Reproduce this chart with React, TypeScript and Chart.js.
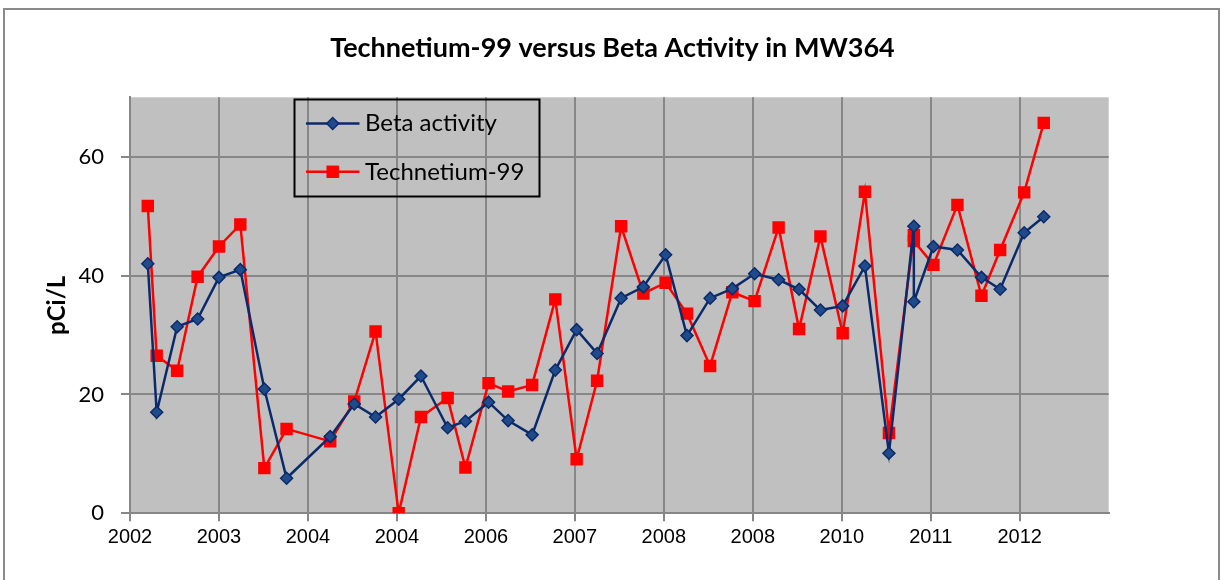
import React, { useEffect, useRef } from 'react';
import { Chart, registerables } from 'chart.js';

Chart.register(...registerables);

const chartTitle = 'Technetium-99 versus Beta Activity in MW364';
const yAxisTitle = 'pCi/L';
const seriesNames = ['Beta activity', 'Technetium-99'];
const xTickLabels = ['2002', '2003', '2004', '2004', '2006', '2007', '2008', '2008', '2010', '2011', '2012'];
const yTickValues = [0, 20, 40, 60];

// sample times, in units of the axis' major ticks (0 = first "2002" tick)
const sampleTimes = [
  0.2, 0.3, 0.53, 0.76, 1.0, 1.24, 1.51, 1.76, 2.25, 2.52,
  2.76, 3.02, 3.27, 3.57, 3.77, 4.03, 4.25, 4.52, 4.78, 5.02,
  5.25, 5.52, 5.77, 6.02, 6.26, 6.52, 6.77, 7.02, 7.29, 7.52,
  7.76, 8.01, 8.26, 8.53, 8.81, 8.81, 9.03, 9.3, 9.57, 9.78,
  10.05, 10.27,
];

const betaActivity = [
  42.0, 17.0, 31.4, 32.7, 39.7, 41.0, 20.9, 5.9, 12.9, 18.4,
  16.2, 19.2, 23.1, 14.4, 15.5, 18.7, 15.6, 13.2, 24.1, 30.9,
  26.9, 36.2, 38.1, 43.5, 29.9, 36.2, 37.8, 40.3, 39.3, 37.7,
  34.2, 34.9, 41.6, 10.1, 48.3, 35.6, 44.9, 44.3, 39.7, 37.7,
  47.2, 49.9,
];

const technetium99 = [
  51.7, 26.5, 24.0, 39.8, 44.9, 48.6, 7.6, 14.2, 12.1, 18.8,
  30.6, 0, 16.2, 19.4, 7.7, 21.9, 20.5, 21.6, 36.0, 9.1,
  22.3, 48.3, 37.0, 38.8, 33.6, 24.8, 37.2, 35.7, 48.1, 31.0,
  46.6, 30.3, 54.1, 13.5, 46.8, 45.8, 41.8, 51.9, 36.6, 44.3,
  54.0, 65.7,
];

const W = 1225;
const H = 580;
const GRID = '#878787';

const plotBackground = {
  id: 'plotBackground',
  beforeDraw(chart: any) {
    const { ctx, chartArea } = chart;
    ctx.save();
    ctx.fillStyle = '#c0c0c0';
    ctx.fillRect(chartArea.left, chartArea.top, chartArea.right - chartArea.left, chartArea.bottom - chartArea.top);
    ctx.restore();
  },
};

const titlePlugin = {
  id: 'excelTitle',
  afterDraw(chart: any) {
    const { ctx } = chart;
    ctx.save();
    ctx.font = 'bold 27px Lato';
    ctx.fillStyle = '#000';
    ctx.textAlign = 'center';
    ctx.textBaseline = 'middle';
    ctx.fillText(chartTitle, W / 2, 48);
    ctx.restore();
  },
};

function drawMarker(ctx: CanvasRenderingContext2D, ds: any, x: number, y: number) {
  const r = ds.pointRadius;
  ctx.beginPath();
  if (ds.pointStyle === 'rectRot') {
    ctx.moveTo(x - r, y);
    ctx.lineTo(x, y - r);
    ctx.lineTo(x + r, y);
    ctx.lineTo(x, y + r);
    ctx.closePath();
  } else {
    const s = Math.SQRT1_2 * r;
    ctx.rect(x - s, y - s, 2 * s, 2 * s);
  }
  ctx.fillStyle = ds.pointBackgroundColor;
  ctx.fill();
  if (ds.pointBorderWidth > 0) {
    ctx.lineWidth = ds.pointBorderWidth;
    ctx.strokeStyle = ds.pointBorderColor;
    ctx.stroke();
  }
}

const boxLegend = {
  id: 'boxLegend',
  afterDraw(chart: any) {
    const { ctx } = chart;
    ctx.save();
    ctx.strokeStyle = '#000';
    ctx.lineWidth = 2;
    ctx.strokeRect(294.5, 99.5, 245, 97);
    chart.data.datasets.forEach((ds: any, i: number) => {
      const cy = 123.5 + i * 48.3;
      ctx.strokeStyle = ds.borderColor;
      ctx.lineWidth = ds.borderWidth;
      ctx.beginPath();
      ctx.moveTo(306, cy);
      ctx.lineTo(359.5, cy);
      ctx.stroke();
      drawMarker(ctx, ds, 332.7, cy);
      ctx.fillStyle = '#000';
      ctx.font = '24px Lato';
      ctx.textAlign = 'left';
      ctx.textBaseline = 'middle';
      ctx.fillText(ds.label, 365, cy);
    });
    ctx.restore();
  },
};

export default function App() {
  const ref = useRef<HTMLCanvasElement | null>(null);

  useEffect(() => {
    if (!ref.current) return;
    const chart = new Chart(ref.current, {
      type: 'line',
      data: {
        datasets: [
          {
            label: seriesNames[0],
            data: sampleTimes.map((t, i) => ({ x: t, y: betaActivity[i] })),
            borderColor: '#0b2a6b',
            borderWidth: 2.5,
            pointStyle: 'rectRot',
            pointRadius: 6,
            pointHoverRadius: 6,
            pointBackgroundColor: '#1f4b8a',
            pointBorderColor: '#0b2a6b',
            pointBorderWidth: 1.5,
            tension: 0,
          },
          {
            label: seriesNames[1],
            data: sampleTimes.map((t, i) => ({ x: t, y: technetium99[i] })),
            borderColor: '#ff0000',
            borderWidth: 2.5,
            pointStyle: 'rect',
            pointRadius: 8.8,
            pointHoverRadius: 8.8,
            pointBackgroundColor: '#ff0000',
            pointBorderColor: '#ff0000',
            pointBorderWidth: 0,
            tension: 0,
          },
        ] as any,
      },
      options: {
        responsive: false,
        animation: false,
        layout: { padding: { left: 0, top: 97.3, right: W - 1108.7, bottom: H - 513.3 - 40 } },
        plugins: {
          legend: { display: false },
          title: { display: false },
          tooltip: { enabled: false },
        },
        scales: {
          x: {
            type: 'linear',
            min: 0,
            max: 11,
            afterBuildTicks: (s: any) => {
              s.ticks = xTickLabels.map((_, i) => ({ value: i }));
            },
            afterFit: (s: any) => {
              s.height = 40;
            },
            ticks: {
              autoSkip: false,
              maxRotation: 0,
              padding: 4,
              color: '#000',
              font: { family: 'Liberation Sans', size: 20 },
              callback: (_v: any, i: number) => xTickLabels[i] ?? '',
            },
            grid: { color: GRID, lineWidth: 2, tickLength: 8 },
            border: { color: GRID, width: 2 },
          },
          y: {
            min: 0,
            max: 70,
            afterBuildTicks: (s: any) => {
              s.ticks = yTickValues.map((v) => ({ value: v }));
            },
            afterFit: (s: any) => {
              s.width = 130;
            },
            ticks: {
              padding: 17,
              color: '#000',
              font: { family: 'Lato', size: 22 },
            },
            grid: { color: GRID, lineWidth: 2, tickLength: 9 },
            border: { color: GRID, width: 2 },
            title: {
              display: true,
              text: yAxisTitle,
              color: '#000',
              font: { family: 'Lato', weight: 'bold', size: 24 },
              padding: { top: 43, bottom: 0 },
            },
          },
        },
      } as any,
      plugins: [plotBackground, titlePlugin, boxLegend],
    });
    return () => chart.destroy();
  }, []);

  return (
    <div style={{ position: 'fixed', left: 0, top: 0, width: W, height: H, background: '#fff', overflow: 'hidden' }}>
      <canvas ref={ref} width={W} height={H} style={{ display: 'block' }} />
      <div
        style={{
          position: 'absolute',
          left: 3,
          top: 8,
          width: 1213,
          height: 620,
          border: '2px solid #8a8a8a',
          pointerEvents: 'none',
        }}
      />
    </div>
  );
}
